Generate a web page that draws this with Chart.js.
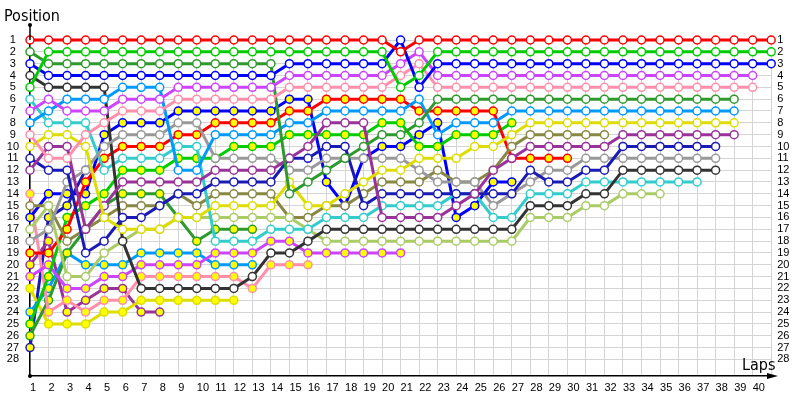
<!DOCTYPE html>
<html>
<head>
<meta charset="utf-8">
<script src="https://cdn.jsdelivr.net/npm/chart.js@4.4.0/dist/chart.umd.min.js"></script>
<style>
  html, body { margin: 0; background: #fff; }
</style>
</head>
<body>
<canvas id="raceChart" width="800" height="400"></canvas>
<script>
// lap tick labels (column 41 is the finish, no label)
const lapTicks = ['1','2','3','4','5','6','7','8','9','10','11','12','13','14','15','16','17','18','19','20',
  '21','22','23','24','25','26','27','28','29','30','31','32','33','34','35','36','37','38','39','40'];
const positionTicks = [1,2,3,4,5,6,7,8,9,10,11,12,13,14,15,16,17,18,19,20,21,22,23,24,25,26,27,28];

// positions per lap column, first driver of each team (white markers)
const redA    = [1,1,1,1,1,1,1,1,1,1, 1,1,1,1,1,1,1,1,1,1, 2,1,1,1,1,1,1,1,1,1, 1,1,1,1,1,1,1,1,1,1, 1];
const greenA  = [5,2,2,2,2,2,2,2,2,2, 2,2,2,2,2,2,2,2,2,2, 5,4,2,2,2,2,2,2,2,2, 2,2,2,2,2,2,2,2,2,2, 2];
const blueA   = [3,4,4,4,4,4,4,4,4,4, 4,4,4,4,3,3,3,3,3,3, 1,5,3,3,3,3,3,3,3,3, 3,3,3,3,3,3,3,3,3,3, 3];
const violetA = [7,6,7,7,7,6,6,6,5,5, 5,5,5,5,4,4,4,4,4,4, 3,2,4,4,4,4,4,4,4,4, 4,4,4,4,4,4,4,4,4,4];
const pinkA   = [9,11,11,9,8,7,7,7,6,6, 6,6,6,6,5,5,5,5,5,5, 4,3,5,5,5,5,5,5,5,5, 5,5,5,5,5,5,5,5,5,5];
const forestA = [2,3,3,3,3,3,3,3,3,3, 3,3,3,3,14,13,12,11,10,9, 9,8,6,6,6,6,6,6,6,6, 6,6,6,6,6,6,6,6,6];
const skyA    = [8,7,6,6,6,5,5,5,12,12, 9,9,9,9,8,8,7,7,7,7, 7,6,9,8,8,8,7,7,7,7, 7,7,7,7,7,7,7,7,7];
const yellowA = [10,9,9,10,16,17,17,17,16,16, 15,15,15,15,13,15,15,14,13,12, 12,11,11,11,10,10,9,8,8,8, 8,8,8,8,8,8,8,8,8];
const navyA   = [11,12,12,19,18,16,16,15,14,14, 13,13,13,13,11,11,10,10,15,14, 14,14,14,14,14,14,14,12,13,13, 12,12,10,10,10,10,10,10];
const plumA   = [12,10,10,17,15,13,13,13,13,13, 12,12,12,12,11,10,8,8,8,16, 16,16,16,15,14,12,11,10,10,10, 10,10,9,9,9,9,9,9,9];
const greyA   = [18,17,13,12,10,9,9,9,8,8, 11,11,11,11,12,12,11,11,11,11, 11,12,13,13,13,15,14,13,12,12, 11,11,11,11,11,11,11,11];
const blackA  = [4,5,5,5,5,18,22,22,22,22, 22,22,21,19,19,18,17,17,17,17, 17,17,17,17,17,17,17,15,15,15, 14,14,12,12,12,12,12,12];
const tealA   = [6,8,8,8,12,11,11,11,10,10, 18,18,18,17,17,17,16,16,16,15, 15,15,15,14,14,16,16,14,14,14, 13,13,13,13,13,13,13];
const limeA   = [17,15,21,21,19,18,17,17,16,16, 16,16,16,16,16,17,18,18,18,18, 18,18,18,18,18,18,18,16,16,16, 15,15,14,14,14];
const oliveA  = [15,15,18,17,16,15,15,15,14,15, 14,14,14,14,16,16,15,15,14,13, 13,13,12,13,13,12,10,9,9,9, 9,9];

// second driver of each team (yellow markers)
const blueB   = [16,14,14,14,9,8,8,8,7,7, 7,7,7,7,6,6,13,15,11,10, 10,9,8,16,15,13,13];
const redB    = [19,19,17,13,11,10,10,10,9,9, 8,8,8,8,7,7,6,6,6,6, 6,7,7,7,7,7,11,11,11,11];
const greenB  = [25,21,16,15,14,12,12,12,11,11, 11,10,10,10,9,9,9,9,9,8, 8,10,10,9,9,9,8];
const pinkB   = [14,24,23,24,23,23,21,21,21,21, 21,21,22,20,20,20];
const yellowB = [22,25,25,25,24,24,23,23,23,23, 23,23];
const skyB    = [24,22,19,20,20,20,19,19,19,19, 20,20,20];
const violetB = [21,20,22,22,21,21,20,20,20,20, 19,19,19,18,18,19,19,19,19,19, 19];
const plumB   = [20,18,24,23,22,22,24,24];
const navyB   = [27,16,15,12];
const forestB = [26,23,19,17,15,14,14,14,16,18, 17,17,17];

const series = [
  { data: redA, color: '#ff0000', second: false },
  { data: greenA, color: '#00cc00', second: false },
  { data: blueA, color: '#0000ff', second: false },
  { data: violetA, color: '#cc44ff', second: false },
  { data: pinkA, color: '#ff8fab', second: false },
  { data: forestA, color: '#2e9a2e', second: false },
  { data: skyA, color: '#0099ff', second: false },
  { data: yellowA, color: '#dddd00', second: false },
  { data: plumA, color: '#993399', second: false },
  { data: navyA, color: '#1a1ab4', second: false },
  { data: greyA, color: '#999999', second: false },
  { data: blackA, color: '#333333', second: false },
  { data: tealA, color: '#33cccc', second: false },
  { data: limeA, color: '#aacc66', second: false },
  { data: oliveA, color: '#888844', second: false },
  { data: redB, color: '#ff0000', second: true },
  { data: greenB, color: '#00cc00', second: true },
  { data: blueB, color: '#0000ff', second: true },
  { data: violetB, color: '#cc44ff', second: true },
  { data: pinkB, color: '#ff8fab', second: true },
  { data: forestB, color: '#2e9a2e', second: true },
  { data: skyB, color: '#0099ff', second: true },
  { data: yellowB, color: '#dddd00', second: true },
  { data: plumB, color: '#993399', second: true },
  { data: navyB, color: '#1a1ab4', second: true }
];

const datasets = series.map(s => ({
  data: s.data.map((p, i) => ({ x: i + 1, y: p })),
  borderColor: s.color,
  borderWidth: 3,
  pointRadius: 4,
  pointBorderWidth: 1.5,
  pointBorderColor: s.color,
  pointBackgroundColor: s.second ? '#ffff00' : '#ffffff',
  tension: 0,
  clip: false
}));

const tickFont = { family: '"Liberation Sans", Arial, sans-serif', size: 11 };
const titleFont = '16px "DejaVu Sans Condensed", "DejaVu Sans", sans-serif';

const decor = {
  id: 'decor',
  afterDraw(chart) {
    const { ctx, chartArea: a } = chart;
    ctx.save();
    ctx.fillStyle = '#000';
    ctx.strokeStyle = '#000';
    ctx.lineWidth = 1.5;
    // y axis goes a bit above row 1
    ctx.beginPath();
    ctx.moveTo(a.left, a.top);
    ctx.lineTo(a.left, 25);
    ctx.stroke();
    ctx.beginPath();
    ctx.arc(a.left, 25, 2, 0, Math.PI * 2);
    ctx.fill();
    ctx.beginPath();
    ctx.arc(a.left, a.bottom, 2, 0, Math.PI * 2);
    ctx.fill();
    // x axis arrow
    ctx.beginPath();
    ctx.moveTo(a.right, a.bottom);
    ctx.lineTo(772, a.bottom);
    ctx.stroke();
    ctx.beginPath();
    ctx.moveTo(778, a.bottom);
    ctx.lineTo(767, a.bottom - 3);
    ctx.lineTo(767, a.bottom + 3);
    ctx.closePath();
    ctx.fill();

    ctx.font = titleFont;
    ctx.textBaseline = 'alphabetic';
    ctx.fillText('Position', 4, 21);
    ctx.fillText('Laps', 742, 370);
    ctx.restore();
  }
};

new Chart(document.getElementById('raceChart'), {
  type: 'line',
  data: { datasets },
  options: {
    responsive: false,
    animation: false,
    events: [],
    layout: { padding: { top: 40, left: 0, right: 0, bottom: 0 } },
    plugins: { legend: { display: false }, tooltip: { enabled: false } },
    scales: {
      x: {
        type: 'linear',
        min: 1,
        max: 41,
        afterBuildTicks: s => { s.ticks = lapTicks.map((t, i) => ({ value: i + 1 })).concat([{ value: 41 }]); },
        afterFit: s => { s.height = 24; },
        grid: { color: '#d4d4d4', lineWidth: 1, drawTicks: false },
        border: { color: '#000', width: 1.5 },
        ticks: {
          autoSkip: false,
          maxRotation: 0,
          align: 'start',
          padding: 5,
          color: '#000',
          font: tickFont,
          callback: v => lapTicks[v - 1] || ''
        }
      },
      y: {
        type: 'linear',
        reverse: true,
        min: 1,
        max: 29.4,
        afterBuildTicks: s => { s.ticks = positionTicks.map(v => ({ value: v })); },
        afterFit: s => { s.width = 30; },
        grid: { color: '#d4d4d4', lineWidth: 1, drawTicks: false },
        border: { color: '#000', width: 1.5 },
        ticks: { autoSkip: false, color: '#000', font: tickFont, crossAlign: 'center', padding: 11 }
      },
      y2: {
        type: 'linear',
        position: 'right',
        reverse: true,
        min: 1,
        max: 29.4,
        afterBuildTicks: s => { s.ticks = positionTicks.map(v => ({ value: v })); },
        afterFit: s => { s.width = 28.8; },
        grid: { display: false, drawTicks: false },
        border: { display: false },
        ticks: { autoSkip: false, color: '#000', font: tickFont, padding: 6 }
      }
    }
  },
  plugins: [decor]
});
</script>
</body>
</html>
